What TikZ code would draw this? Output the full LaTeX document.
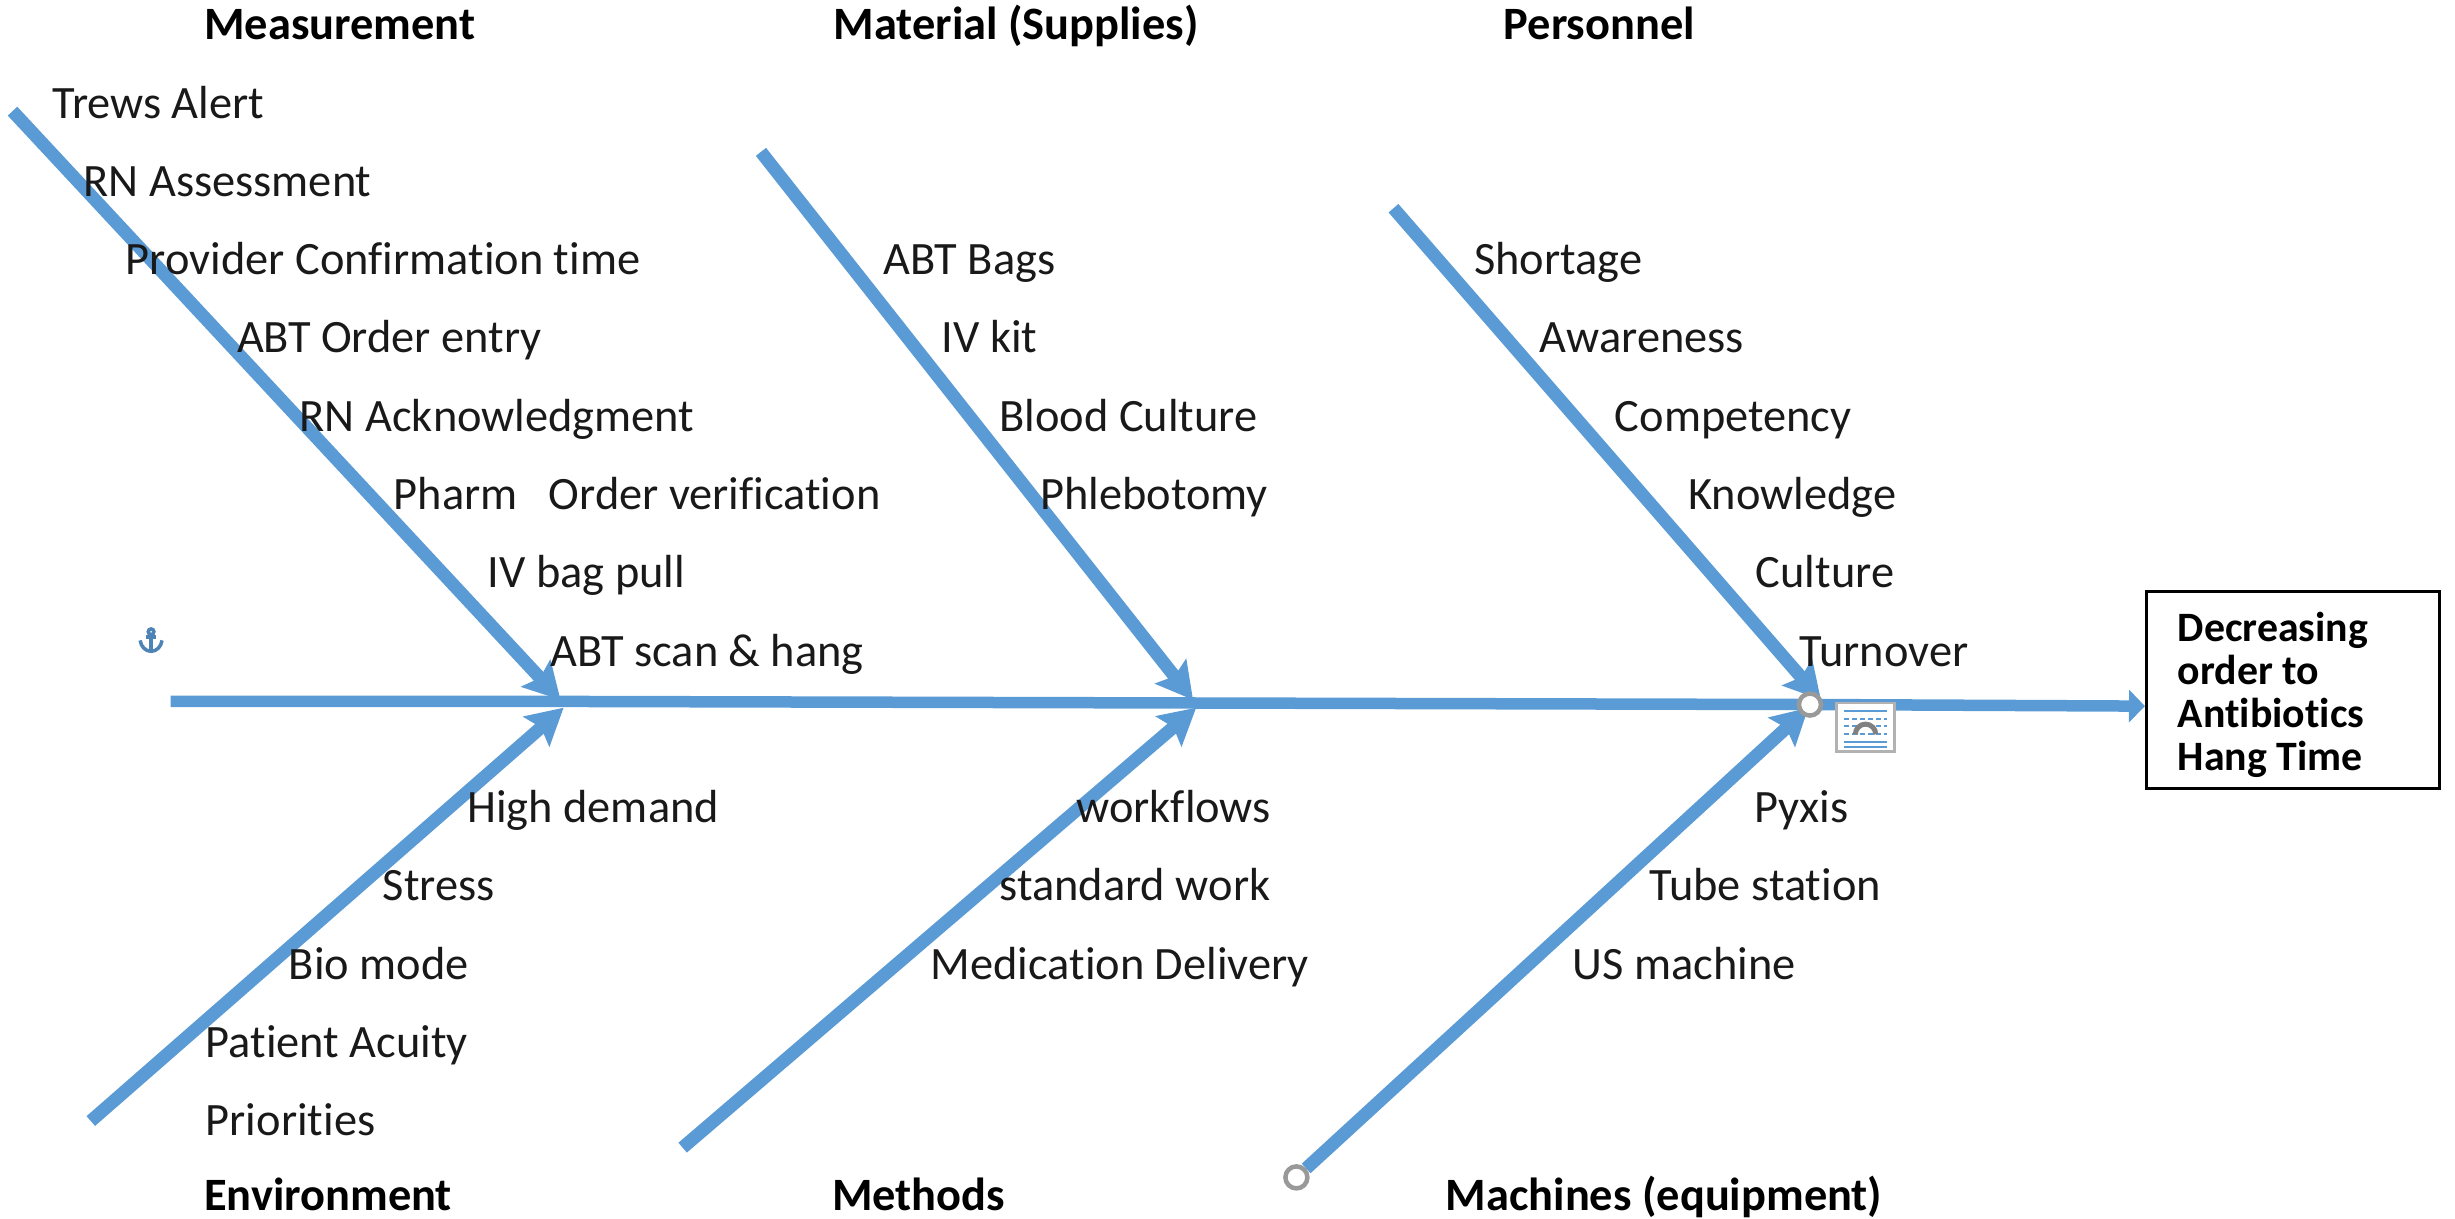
\documentclass[tikz,border=0pt]{standalone}
\usepackage{fontspec}
\setmainfont[Ligatures=NoCommon]{Carlito}
\usetikzlibrary{arrows.meta}
\definecolor{bone}{HTML}{5B9BD5}
\tikzset{
  x=0.015657cm,y=-0.015657cm,
  lab/.style={anchor=west,inner sep=0pt,text height=3.6mm,text depth=0.35mm,font=\fontsize{13.2}{15}\selectfont,text=black!90},
  head/.style={anchor=west,inner sep=0pt,text height=3.6mm,text depth=0.35mm,font=\fontsize{13.2}{15}\selectfont\bfseries},
  bonearrow/.style={draw=bone,line width=1.3mm,-{Stealth[length=3.6mm,width=3.9mm,inset=0.6mm]}},
  spineline/.style={draw=bone,line width=1.15mm},
  handle/.style={circle,draw=black!40,fill=white,line width=0.45mm,minimum size=2.2mm,inner sep=0pt},
  effect/.style={draw=black,line width=0.3mm,fill=white,minimum width=2.93cm,minimum height=1.97cm,inner sep=0pt}
}
\begin{document}
\begin{tikzpicture}
\useasboundingbox (0,0) rectangle (1568,778);
% junctions and free ends
\coordinate (s0) at (109,448);
\coordinate (j1) at (358,448);
\coordinate (j2) at (762,449);
\coordinate (j3) at (1163,450);
\coordinate (t1) at (8,71);
\coordinate (b1) at (58,716);
\coordinate (t2) at (486,97);
\coordinate (b2) at (436,733);
\coordinate (t3) at (890,133);
\coordinate (j1b) at (360,452);
\coordinate (j2b) at (764,452);
\coordinate (j3b) at (1155,452);
\coordinate (j3t) at (1163,447);
\coordinate (j1t) at (358,447);
\coordinate (j2t) at (762,447);
% effect box
\node[effect] (effect) at (1464.5,441) {};
\coordinate (spineend) at (effect.west |- 0,451);
\node[anchor=west,inner sep=0pt,align=left,font=\fontsize{11.9}{12.2}\selectfont\bfseries] (efftext) at (1390.5,444) {Decreasing\\order to\\Antibiotics\\Hang Time};
% spine
\draw[spineline,-{Triangle[length=1.6mm,width=3.2mm]}] (s0) -- (j1) -- (j2) -- (j3) -- (spineend);
% bones
\draw[bonearrow] (t1) -- (j1t);
\draw[bonearrow] (b1) -- (j1b);
\draw[bonearrow] (t2) -- (j2t);
\draw[bonearrow] (b2) -- (j2b);
\draw[bonearrow] (t3) -- (j3t);
\node[handle] (h2) at (828,752) {};
\draw[bonearrow] (h2) -- (j3b);
\node[handle] (h1) at (1156,450) {};
% headings
\node[head] (m1) at (130,15) {Measurement};
\node[head] (m2) at (532,15) {Material (Supplies)};
\node[head] (m3) at (960,15) {Personnel};
\node[head] (m4) at (130,762.5) {Environment};
\node[head] (m5) at (531,762.5) {Methods};
\node[head] (m6) at (923,762.5) {Machines (equipment)};
% causes
\node[lab] (a1) at (33,65) {Trews Alert};
\node[lab] (a2) at (53,115) {RN Assessment};
\node[lab] (a3) at (80,165) {Provider Confirmation time};
\node[lab] (a4) at (151,215) {ABT Order entry};
\node[lab] (a5) at (191,265) {RN Acknowledgment};
\node[lab] (a6) at (251,315) {Pharm};
\node[lab] (a6b) at (350,315) {Order verification};
\node[lab] (a7) at (311,365) {IV bag pull};
\node[lab] (a8) at (351,415) {ABT scan \& hang};
\node[lab] (b1l) at (564,165) {ABT Bags};
\node[lab] (b2l) at (601,215) {IV kit};
\node[lab] (b3l) at (638,265) {Blood Culture};
\node[lab] (b4l) at (664,315) {Phlebotomy};
\node[lab] (c1) at (941,165) {Shortage};
\node[lab] (c2) at (983,215) {Awareness};
\node[lab] (c3) at (1031,265) {Competency};
\node[lab] (c4) at (1078,315) {Knowledge};
\node[lab] (c5) at (1121,365) {Culture};
\node[lab] (c6) at (1149,415) {Turnover};
\node[lab] (d1) at (298,515) {High demand};
\node[lab] (d2) at (244,565) {Stress};
\node[lab] (d3) at (184,615) {Bio mode};
\node[lab] (d4) at (131,665) {Patient Acuity};
\node[lab] (d5) at (131,715) {Priorities};
\node[lab] (e1) at (687,515) {workflows};
\node[lab] (e2) at (638,565) {standard work};
\node[lab] (e3) at (594,615) {Medication Delivery};
\node[lab] (f1) at (1120,515) {Pyxis};
\node[lab] (f2) at (1053,565) {Tube station};
\node[lab] (f3) at (1004,615) {US machine};
% layout-options icon
\draw[black!30,fill=white,line width=0.25mm] (1173,449) rectangle (1210,480);
\foreach \yy in {454,474,477}{\draw[bone,line width=0.2mm] (1178,\yy) -- (1205,\yy);}
\foreach \yy in {459,464,469}{\draw[bone,line width=0.2mm,dash pattern=on 0.5mm off 0.3mm] (1178,\yy) -- (1205,\yy);}
\draw[black!50,line width=0.5mm] (1185,469) arc[start angle=180,end angle=360,radius=6.5];
% anchor glyph
\begin{scope}[draw=bone!85!black,line width=0.35mm]
\draw (96.5,403.5) circle[radius=1.8];
\draw (96.5,405.3) -- (96.5,416);
\draw (89.5,409) .. controls (90,413) and (93,416) .. (96.5,416) .. controls (100,416) and (103,413) .. (103.5,409);
\draw (93.5,407) -- (99.5,407);
\end{scope}
\end{tikzpicture}
\end{document}
